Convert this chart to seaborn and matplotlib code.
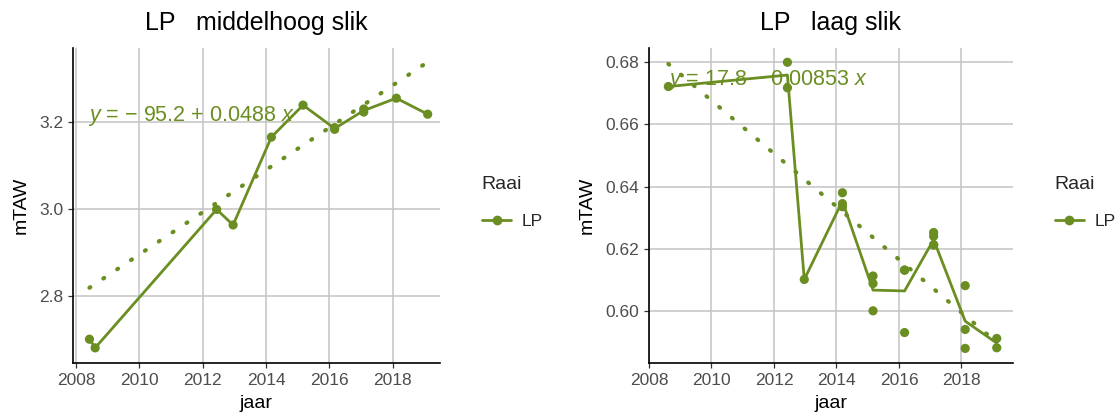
import numpy as np
import pandas as pd
import seaborn as sns
import matplotlib
matplotlib.use("Agg")
import matplotlib.pyplot as plt
from matplotlib.lines import Line2D

# --- data -------------------------------------------------------------------
raai = "LP"

# middelhoog slik
mh_jaar = [2008.42, 2008.60, 2012.44, 2012.96, 2014.17, 2015.17,
           2016.17, 2016.17, 2017.09, 2017.09, 2018.12, 2019.11]
mh_taw = [2.699, 2.679, 2.999, 2.963, 3.166, 3.240,
          3.188, 3.184, 3.231, 3.224, 3.256, 3.219]
mh_fit = (-95.193, 0.0488)   # intercept, slope of the linear fit

# laag slik
laag_jaar = [2008.62, 2012.43, 2012.43, 2012.97,
             2014.19, 2014.19, 2014.19,
             2015.17, 2015.17, 2015.17,
             2016.18, 2016.18, 2016.18,
             2017.11, 2017.11, 2017.11, 2017.11,
             2018.12, 2018.12, 2018.12,
             2019.13, 2019.13]
laag_taw = [0.6722, 0.6800, 0.6718, 0.6101,
            0.6380, 0.6345, 0.6335,
            0.6112, 0.6088, 0.6000,
            0.6131, 0.6131, 0.5930,
            0.6252, 0.6240, 0.6212, 0.6212,
            0.6081, 0.5940, 0.5879,
            0.5911, 0.5881]
laag_fit = (17.813, -0.00853)

green = "#6b8e23"

sns.set_theme(style="white")
plt.rcParams["font.family"] = ["Liberation Sans", "DejaVu Sans"]
plt.rcParams["mathtext.fontset"] = "custom"
plt.rcParams["mathtext.it"] = "Liberation Sans:italic"
plt.rcParams["mathtext.rm"] = "Liberation Sans"

fig = plt.figure(figsize=(11.18, 4.16), dpi=100)
ax1 = fig.add_axes([73 / 1118, 53 / 416, 367 / 1118, 315 / 416])
ax2 = fig.add_axes([649 / 1118, 53 / 416, 364 / 1118, 315 / 416])

MINUS = "\u2212"


def fmt(v):
    return f"{v:.3g}"


def eq_label(a, b):
    lead = f"{MINUS} {fmt(abs(a))}" if a < 0 else fmt(a)
    sign = "+" if b >= 0 else MINUS
    return rf"$y$ = {lead} {sign} {fmt(abs(b))} $x$"


def panel(ax, jaar, taw, fit, title, xlim, ylim, yticks, yfmt, lab_pos):
    df = pd.DataFrame({"jaar": jaar, "mTAW": taw, "Raai": raai})
    a, b = fit
    xs = np.linspace(min(jaar), max(jaar), 200)
    ax.plot(xs, a + b * xs, color=green, lw=3.0,
            linestyle=(0, (0.25, 3.75)), dash_capstyle="round", zorder=2)
    sns.lineplot(data=df, x="jaar", y="mTAW", hue="Raai", palette=[green],
                 errorbar=None, lw=2.0, ax=ax, legend=False, zorder=3)
    sns.scatterplot(data=df, x="jaar", y="mTAW", hue="Raai", palette=[green],
                    s=44, linewidth=0, alpha=1, ax=ax, legend=False, zorder=4)

    ax.text(lab_pos[0], lab_pos[1], eq_label(a, b), transform=ax.transAxes,
            color=green, fontsize=15.5, ha="left", va="center", zorder=5)

    ax.set_xlim(*xlim)
    ax.set_ylim(*ylim)
    ax.set_xticks([2008, 2010, 2012, 2014, 2016, 2018])
    ax.set_yticks(yticks)
    ax.set_yticklabels([yfmt.format(v) for v in yticks])
    ax.grid(True, color="#c4c4c4", lw=1.1)
    ax.set_axisbelow(True)
    for s in ["top", "right"]:
        ax.spines[s].set_visible(False)
    for s in ["left", "bottom"]:
        ax.spines[s].set_color("black")
        ax.spines[s].set_linewidth(1.2)
    ax.tick_params(axis="both", which="major", length=3.5, width=0.9,
                   color="#333333", labelsize=12.5, labelcolor="#4d4d4d",
                   pad=3.5, bottom=True, left=True)
    ax.set_xlabel("jaar", fontsize=14, color="black", labelpad=5)
    ax.set_ylabel("mTAW", fontsize=14, color="black", labelpad=7)
    ax.set_title(title, fontsize=18, color="black", pad=13)

    handle = Line2D([], [], color=green, lw=2.0, marker="o", markersize=6)
    leg = ax.legend([handle], ["LP"], title="Raai", frameon=False,
                    loc="center left", bbox_to_anchor=(1.095, 0.51),
                    fontsize=12.5, title_fontsize=14, handlelength=1.7,
                    handletextpad=0.6, borderaxespad=0, labelspacing=1.2)
    leg._legend_box.align = "left"


panel(ax1, mh_jaar, mh_taw, mh_fit, "LP   middelhoog slik",
      (2007.9, 2019.5), (2.644, 3.372), [2.8, 3.0, 3.2], "{:.1f}",
      (0.041, 0.784))
panel(ax2, laag_jaar, laag_taw, laag_fit, "LP   laag slik",
      (2008.07, 2019.65), (0.5832, 0.6846), [0.60, 0.62, 0.64, 0.66, 0.68],
      "{:.2f}", (0.052, 0.898))

fig.savefig("out.png", dpi=100)
